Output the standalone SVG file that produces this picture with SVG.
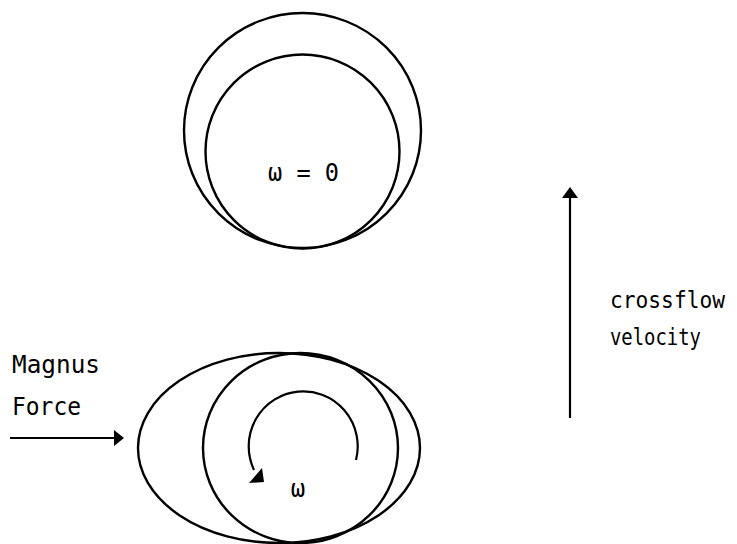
<svg xmlns="http://www.w3.org/2000/svg" width="737" height="544" viewBox="0 0 737 544">
  <style>
    .shape { fill: none; stroke: #000; stroke-width: 2.4; }
    .line { fill: none; stroke: #000; stroke-width: 2.2; }
    .head { fill: #000; stroke: none; }
    .label { font-family: "DejaVu Sans Mono", "Liberation Mono", monospace; font-size: 24px; fill: #000; }
    .side { font-size: 23px; }
  </style>

  <!-- Cylinder at rest: displaced outline and body outline -->
  <g id="cylinder-rest">
    <ellipse class="shape" cx="302.5" cy="130.5" rx="118.5" ry="117.5"/>
    <circle class="shape" cx="302.5" cy="151.5" r="97"/>
    <text class="label" x="268" y="181" textLength="71" lengthAdjust="spacingAndGlyphs">ω = 0</text>
  </g>

  <!-- Rotating cylinder: widened outline and body outline -->
  <g id="cylinder-spinning">
    <ellipse class="shape" cx="279" cy="448" rx="141" ry="95"/>
    <ellipse class="shape" cx="300.5" cy="448" rx="97.5" ry="95"/>
    <text class="label" x="298" y="497" text-anchor="middle">ω</text>
  </g>

  <!-- Labels -->
  <g id="magnus-label">
    <text class="label" x="12" y="373" textLength="88" lengthAdjust="spacingAndGlyphs">Magnus</text>
    <text class="label" x="12" y="415" textLength="69" lengthAdjust="spacingAndGlyphs">Force</text>
  </g>
  <g id="crossflow-label">
    <text class="label side" x="610" y="308" textLength="115" lengthAdjust="spacingAndGlyphs">crossflow</text>
    <text class="label side" x="610" y="345" textLength="91" lengthAdjust="spacingAndGlyphs">velocity</text>
  </g>

  <!-- Arrows -->
  <g id="connectors">
    <!-- spin direction -->
    <path class="line" d="M356,460 A54.5,55 0 1 0 254,470"/>
    <polygon class="head" points="249,483 262,468 264,482"/>
    <!-- Magnus force -->
    <line class="line" x1="10" y1="438" x2="116" y2="438"/>
    <polygon class="head" points="124,438 114,430 114,446"/>
    <!-- crossflow velocity -->
    <line class="line" x1="570" y1="418" x2="570" y2="196"/>
    <polygon class="head" points="570,187 562,198 578,198"/>
  </g>
</svg>
